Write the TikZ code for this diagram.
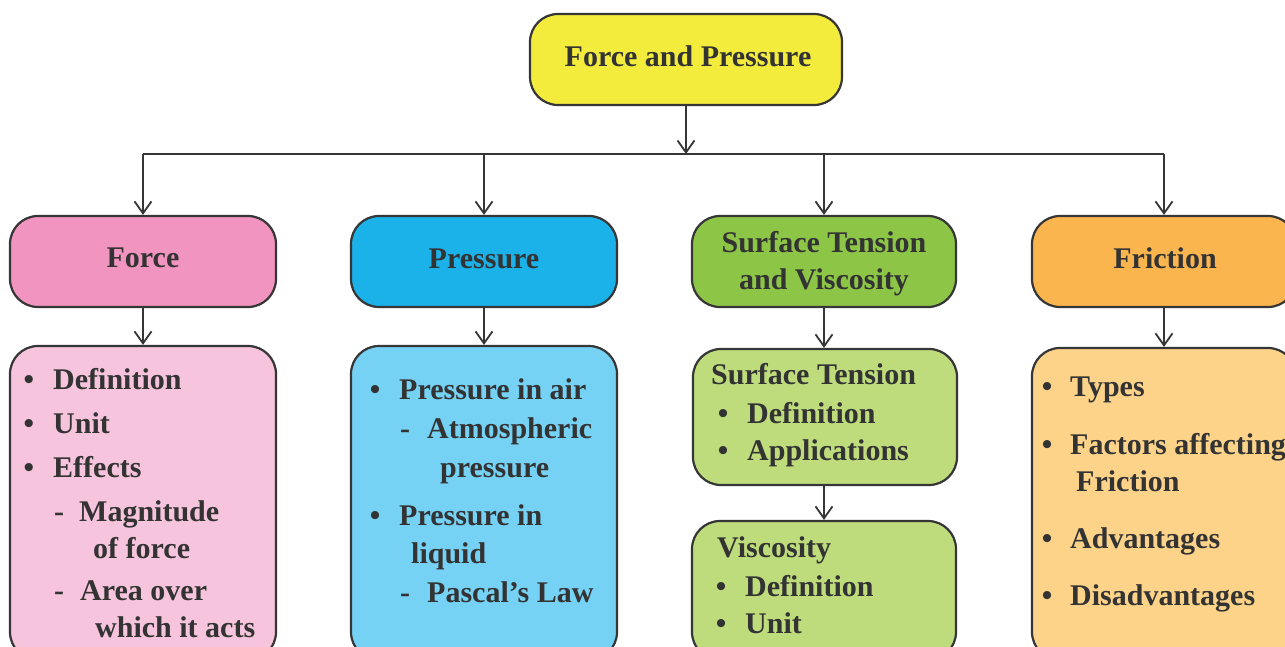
\documentclass[tikz,border=0pt]{standalone}
\usepackage{fontspec}
\setmainfont{Liberation Serif}
\usetikzlibrary{arrows.meta}
\definecolor{edge}{HTML}{363636}
\definecolor{ink}{HTML}{333333}
\definecolor{cyellow}{HTML}{F3EC3C}
\definecolor{cpink}{HTML}{F194BF}
\definecolor{lpink}{HTML}{F6C4DC}
\definecolor{cblue}{HTML}{1BB1E9}
\definecolor{lblue}{HTML}{76D2F5}
\definecolor{cgreen}{HTML}{8DC647}
\definecolor{lgreen}{HTML}{BEDC7C}
\definecolor{corange}{HTML}{FBB54E}
\definecolor{lorange}{HTML}{FDD38A}
\tikzset{
  box/.style={draw=edge, line width=2.2pt, rounded corners=28pt, inner sep=0pt, rectangle},
  conn/.style={draw=edge, line width=1.8pt, -{Straight Barb[length=12pt,width=17pt,line width=1.8pt]}},
  plain/.style={draw=edge, line width=1.8pt},
  txt/.style={anchor=base west, inner sep=0pt, text=ink, font=\fontsize{30}{36}\selectfont\bfseries},
  ctxt/.style={anchor=base, inner sep=0pt, text=ink, font=\fontsize{30}{36}\selectfont\bfseries},
  bul/.style={anchor=base, inner sep=0pt, text=ink, font=\fontsize{30}{36}\selectfont\bfseries}
}
\begin{document}
\begin{tikzpicture}[x=1pt,y=-1pt]
\useasboundingbox (0,0) rectangle (1285,647);
\clip (0,0) rectangle (1285,647);
\fill[white] (0,0) rectangle (1285,647);

% root
\node[box, fill=cyellow, minimum width=312pt, minimum height=91pt] (root) at (686,59.5) {};
\node[ctxt] (roott) at (688,67) {Force and Pressure};

% level 2
\node[box, fill=cpink, minimum width=266pt, minimum height=91pt] (force) at (143,261.5) {};
\node[box, fill=cblue, minimum width=266pt, minimum height=91pt] (press) at (484,261.5) {};
\node[box, fill=cgreen, minimum width=264pt, minimum height=91pt] (surf) at (824,261.5) {};
\node[box, fill=corange, minimum width=264pt, minimum height=91pt] (fric) at (1164,261.5) {};
\node[ctxt] (forcet) at (143,267) {Force};
\node[ctxt] (presst) at (484,268) {Pressure};
\node[ctxt] (surft1) at (824,252) {Surface Tension};
\node[ctxt] (surft2) at (824,289) {and Viscosity};
\node[ctxt] (frict) at (1165,268) {Friction};

% level 3
\node[box, fill=lpink, minimum width=266pt, minimum height=314pt] (forcel) at (143,503) {};
\node[box, fill=lblue, minimum width=266pt, minimum height=314pt] (pressl) at (484,503) {};
\node[box, fill=lgreen, minimum width=264pt, minimum height=136pt] (st) at (825,417) {};
\node[box, fill=lgreen, minimum width=264pt, minimum height=139pt] (visc) at (824,590.5) {};
\node[box, fill=lorange, minimum width=264pt, minimum height=312pt] (fricl) at (1164,504) {};

% connectors
\coordinate (hub) at (686,154);
\coordinate (b1) at (force.north |- hub);
\coordinate (b2) at (press.north |- hub);
\coordinate (b3) at (surf.north |- hub);
\coordinate (b4) at (fric.north |- hub);
\draw[conn] (root.south) -- (hub);
\draw[plain] (b1) -- (b4);
\draw[conn] (b1) -- (force.north);
\draw[conn] (b2) -- (press.north);
\draw[conn] (b3) -- (surf.north);
\draw[conn] (b4) -- (fric.north);
\draw[conn] (force.south) -- (forcel.north);
\draw[conn] (press.south) -- (pressl.north);
\draw[conn] (surf.south) -- (st.north -| surf.south);
\draw[conn] (st.south -| surf.south) -- (visc.north);
\draw[conn] (fric.south) -- (fricl.north);

% Force list
\node[bul] at (29,389) {\textbullet};
\node[bul] at (29,433) {\textbullet};
\node[bul] at (29,477) {\textbullet};
\node[txt] (f1) at (53,389) {Definition};
\node[txt] (f2) at (53,433) {Unit};
\node[txt] (f3) at (53,477) {Effects};
\node[txt] at (54,521) {-};
\node[txt] (f4) at (79,521) {Magnitude};
\node[txt] (f5) at (93,558) {of force};
\node[txt] at (54,600) {-};
\node[txt] (f6) at (80,600) {Area over};
\node[txt] (f7) at (95,637) {which it acts};

% Pressure list
\node[bul] at (375,399) {\textbullet};
\node[bul] at (375,525) {\textbullet};
\node[txt] (p1) at (399,399) {Pressure in air};
\node[txt] at (400,438) {-};
\node[txt] (p2) at (427,438) {Atmospheric};
\node[txt] (p3) at (440,477) {pressure};
\node[txt] (p4) at (399,525) {Pressure in};
\node[txt] (p5) at (411,563) {liquid};
\node[txt] at (400,602) {-};
\node[txt] (p6) at (427,602) {Pascal’s Law};

% Surface tension list
\node[txt] (s1) at (711,384) {Surface Tension};
\node[bul] at (723,423) {\textbullet};
\node[bul] at (723,460) {\textbullet};
\node[txt] (s2) at (747,423) {Definition};
\node[txt] (s3) at (747,460) {Applications};

% Viscosity list
\node[txt] (v1) at (717,557) {Viscosity};
\node[bul] at (721,596) {\textbullet};
\node[bul] at (721,633) {\textbullet};
\node[txt] (v2) at (745,596) {Definition};
\node[txt] (v3) at (745,633) {Unit};

% Friction list
\node[bul] at (1047,396) {\textbullet};
\node[bul] at (1047,454) {\textbullet};
\node[bul] at (1047,548) {\textbullet};
\node[bul] at (1047,605) {\textbullet};
\node[txt] (r1) at (1070,396) {Types};
\node[txt] (r2) at (1070,454) {Factors affecting};
\node[txt] (r3) at (1076,491) {Friction};
\node[txt] (r4) at (1070,548) {Advantages};
\node[txt] (r5) at (1070,605) {Disadvantages};
\end{tikzpicture}
\end{document}
